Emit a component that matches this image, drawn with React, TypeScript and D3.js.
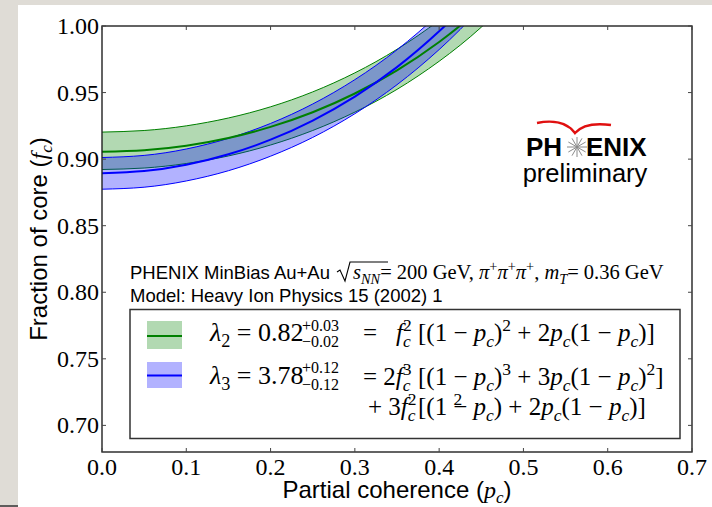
import React from 'react';
import * as d3 from 'd3';

// Partial coherence grid (p_c) and model fraction-of-core curves
const pc = [0, 0.05, 0.1, 0.15, 0.2, 0.25, 0.3, 0.35, 0.4, 0.45, 0.5];
const lambda2Mid = [0.9055, 0.9067, 0.9101, 0.9159, 0.9242, 0.9352, 0.9493, 0.9667, 0.988, 1.014, 1.0456];
const lambda2Hi = [0.9203, 0.9215, 0.925, 0.9309, 0.9393, 0.9505, 0.9648, 0.9825, 1.0042, 1.0306, 1.0627];
const lambda2Lo = [0.8922, 0.8933, 0.8967, 0.9024, 0.9106, 0.9215, 0.9353, 0.9524, 0.9735, 0.9991, 1.0302];
const lambda3Mid = [0.8894, 0.891, 0.8957, 0.9036, 0.9146, 0.929, 0.947, 0.9691, 0.996, 1.0283, 1.0674];
const lambda3Hi = [0.9012, 0.9028, 0.9076, 0.9156, 0.9268, 0.9414, 0.9597, 0.9821, 1.0093, 1.0422, 1.0818];
const lambda3Lo = [0.8774, 0.8789, 0.8836, 0.8913, 0.9022, 0.9163, 0.9341, 0.9559, 0.9823, 1.0142, 1.0527];

const xTicks = [0, 0.1, 0.2, 0.3, 0.4, 0.5, 0.6, 0.7];
const yTicks = [0.7, 0.75, 0.8, 0.85, 0.9, 0.95, 1.0];

const W = 712;
const H = 507;
const M = { left: 102, right: 692, top: 26, bottom: 452 };

const SERIF = '"Liberation Serif", "Times New Roman", serif';
const SANS = '"Liberation Sans", Arial, sans-serif';

type Seg = { t: string; i?: boolean; s?: 'b' | 'p'; dx?: number };

function MathText({ x, y, size, segs, anchor }: { x: number; y: number; size: number; segs: Seg[]; anchor?: string }) {
  let prev = 0;
  return (
    <text x={x} y={y} fontFamily={SERIF} fontSize={size} textAnchor={anchor} style={{ whiteSpace: 'pre' }} fill="#000">
      {segs.map((g, k) => {
        const off = g.s === 'b' ? size * 0.24 : g.s === 'p' ? -size * 0.4 : 0;
        const dy = off - prev;
        prev = off;
        return (
          <tspan key={k} dy={dy} dx={g.dx} fontStyle={g.i ? 'italic' : undefined} fontSize={g.s ? size * 0.7 : undefined}>
            {g.t}
          </tspan>
        );
      })}
    </text>
  );
}

export default function App() {
  const x = d3.scaleLinear().domain([0, 0.7]).range([M.left, M.right]);
  const y = d3.scaleLinear().domain([0.68, 1.0]).range([M.bottom, M.top]);

  const idx = pc.map((_, i) => i);
  const area = (lo: number[], hi: number[]) =>
    d3
      .area<number>()
      .x((i) => x(pc[i]))
      .y0((i) => y(lo[i]))
      .y1((i) => y(hi[i]))
      .curve(d3.curveNatural)(idx) || '';
  const line = (v: number[]) =>
    d3
      .line<number>()
      .x((i) => x(pc[i]))
      .y((i) => y(v[i]))
      .curve(d3.curveNatural)(idx) || '';

  const green = '#008000';
  const blue = '#0000ff';
  const fs = 25; // legend math size
  const sb = fs * 0.7 * 0.5;
  const bx = 418; // bracket column of the model formulas

  // PHENIX logo burst
  const burst = d3.range(12).map((k) => (k * Math.PI) / 6);

  return (
    <svg width={W} height={H} style={{ position: 'fixed', left: 0, top: 0, display: 'block' }}>
      <rect x={0} y={0} width={W} height={H} fill="#dfdcd6" />
      <rect x={18} y={5} width={W - 18} height={H - 5} fill="#fff" />
      <line x1={0} x2={18} y1={506} y2={506} stroke="#333" strokeWidth={1.5} />

      <defs>
        <clipPath id="plot">
          <rect x={M.left} y={M.top} width={M.right - M.left} height={M.bottom - M.top} />
        </clipPath>
      </defs>

      <g clipPath="url(#plot)">
        <path d={area(lambda2Lo, lambda2Hi)} fill={green} fillOpacity={0.3} />
        <path d={line(lambda2Hi)} fill="none" stroke={green} strokeWidth={1} />
        <path d={line(lambda2Lo)} fill="none" stroke={green} strokeWidth={1} />
        <path d={area(lambda3Lo, lambda3Hi)} fill={blue} fillOpacity={0.3} />
        <path d={line(lambda3Hi)} fill="none" stroke={blue} strokeWidth={1} />
        <path d={line(lambda3Lo)} fill="none" stroke={blue} strokeWidth={1} />
        <path d={line(lambda2Mid)} fill="none" stroke={green} strokeWidth={2} />
        <path d={line(lambda3Mid)} fill="none" stroke={blue} strokeWidth={2} />
      </g>

      {/* frame and ticks */}
      <rect x={M.left} y={M.top} width={M.right - M.left} height={M.bottom - M.top} fill="none" stroke="#222" strokeWidth={1.4} />
      {xTicks.map((t) => (
        <g key={'x' + t}>
          <line x1={x(t)} x2={x(t)} y1={M.bottom} y2={M.bottom - 4} stroke="#444" />
          <line x1={x(t)} x2={x(t)} y1={M.top} y2={M.top + 4} stroke="#444" />
          <text x={x(t)} y={475} textAnchor="middle" fontFamily={SERIF} fontSize={24} fill="#000">
            {d3.format('.1f')(t)}
          </text>
        </g>
      ))}
      {yTicks.map((t) => (
        <g key={'y' + t}>
          <line x1={M.left} x2={M.left + 4} y1={y(t)} y2={y(t)} stroke="#444" />
          <line x1={M.right} x2={M.right - 4} y1={y(t)} y2={y(t)} stroke="#444" />
          <text x={99} y={y(t) + 8} textAnchor="end" fontFamily={SERIF} fontSize={24} fill="#000">
            {d3.format('.2f')(t)}
          </text>
        </g>
      ))}

      {/* axis titles */}
      <text x={(M.left + M.right) / 2} y={498} textAnchor="middle" fontFamily={SANS} fontSize={24} style={{ whiteSpace: 'pre' }}>
        <tspan>Partial coherence (</tspan>
        <tspan fontFamily={SERIF} fontStyle="italic">p</tspan>
        <tspan fontFamily={SERIF} fontStyle="italic" fontSize={17} dy={5}>c</tspan>
        <tspan dy={-5}>)</tspan>
      </text>
      <text
        transform={`translate(47,${(M.top + M.bottom) / 2}) rotate(-90)`}
        textAnchor="middle"
        fontFamily={SANS}
        fontSize={24}
        style={{ whiteSpace: 'pre' }}
      >
        <tspan>Fraction of core (</tspan>
        <tspan fontFamily={SERIF} fontStyle="italic">f</tspan>
        <tspan fontFamily={SERIF} fontStyle="italic" fontSize={17} dy={5}>c</tspan>
        <tspan dy={-5}>)</tspan>
      </text>

      {/* PHENIX preliminary logo */}
      <path d="M537,123 C552,120 567,122 575,133 C582,125 596,123 611,125" fill="none" stroke="#e01010" strokeWidth={2.5} />
      <text x={526} y={156} fontFamily={SANS} fontWeight="bold" fontSize={26} fill="#000">PH</text>
      {burst.map((a, k) => (
        <line key={k} x1={577} y1={147} x2={577 + 10 * Math.cos(a)} y2={147 + 10 * Math.sin(a)} stroke="#8a8a8a" strokeWidth={1} />
      ))}
      <text x={586} y={156} fontFamily={SANS} fontWeight="bold" fontSize={26} fill="#000">ENIX</text>
      <text x={585} y={182} textAnchor="middle" fontFamily={SANS} fontSize={25.5} fill="#000">preliminary</text>

      {/* dataset annotation */}
      <text x={130} y={279} fontFamily={SANS} fontSize={18.5} fill="#000">PHENIX MinBias Au+Au</text>
      <path d="M337,272 L340,270 L345,281 L350,262 L388,262" fill="none" stroke="#000" strokeWidth={1.1} />
      <MathText
        x={353}
        y={279}
        size={20.5}
        segs={[
          { t: 's', i: true },
          { t: 'NN', i: true, s: 'b' },
          { t: '= 200 GeV, ' },
          { t: 'π', i: true },
          { t: '+', s: 'p' },
          { t: 'π', i: true },
          { t: '+', s: 'p' },
          { t: 'π', i: true },
          { t: '+', s: 'p' },
          { t: ', ' },
          { t: 'm', i: true },
          { t: 'T', i: true, s: 'b' },
          { t: '= 0.36 GeV' },
        ]}
      />
      <text x={130} y={302} fontFamily={SANS} fontSize={18.5} fill="#000">Model: Heavy Ion Physics 15 (2002) 1</text>

      {/* legend */}
      <rect x={130} y={309.5} width={550} height={129} fill="#fff" stroke="#333" strokeWidth={1.5} />
      <rect x={147} y={321} width={35} height={28} fill={green} fillOpacity={0.3} />
      <line x1={147} x2={182} y1={336} y2={336} stroke={green} strokeWidth={2} />
      <rect x={147} y={362} width={35} height={26} fill={blue} fillOpacity={0.3} />
      <line x1={147} x2={182} y1={375.5} y2={375.5} stroke={blue} strokeWidth={2} />

      <MathText x={210} y={341} size={fs + 1} segs={[{ t: 'λ', i: true }, { t: '2', s: 'b' }, { t: ' = 0.82' }]} />
      <text x={302} y={331} fontFamily={SERIF} fontSize={16}>+0.03</text>
      <text x={302} y={347} fontFamily={SERIF} fontSize={16}>−0.02</text>
      <MathText x={363} y={341} size={fs} segs={[{ t: '=' }]} />
      <MathText x={396} y={341} size={fs} segs={[{ t: 'f', i: true }, { t: '2', s: 'p' }, { t: 'c', i: true, s: 'b', dx: -sb }]} />
      <MathText
        x={bx}
        y={341}
        size={fs}
        segs={[
          { t: '[(1 − ' },
          { t: 'p', i: true },
          { t: 'c', i: true, s: 'b' },
          { t: ')' },
          { t: '2', s: 'p' },
          { t: ' + 2' },
          { t: 'p', i: true },
          { t: 'c', i: true, s: 'b' },
          { t: '(1 − ' },
          { t: 'p', i: true },
          { t: 'c', i: true, s: 'b' },
          { t: ')]' },
        ]}
      />

      <MathText x={210} y={384} size={fs + 1} segs={[{ t: 'λ', i: true }, { t: '3', s: 'b' }, { t: ' = 3.78' }]} />
      <text x={302} y={373} fontFamily={SERIF} fontSize={16}>+0.12</text>
      <text x={302} y={390} fontFamily={SERIF} fontSize={16}>−0.12</text>
      <MathText x={363} y={385} size={fs} segs={[{ t: '= 2' }, { t: 'f', i: true }, { t: '3', s: 'p' }, { t: 'c', i: true, s: 'b', dx: -sb }]} />
      <MathText
        x={bx}
        y={385}
        size={fs}
        segs={[
          { t: '[(1 − ' },
          { t: 'p', i: true },
          { t: 'c', i: true, s: 'b' },
          { t: ')' },
          { t: '3', s: 'p' },
          { t: ' + 3' },
          { t: 'p', i: true },
          { t: 'c', i: true, s: 'b' },
          { t: '(1 − ' },
          { t: 'p', i: true },
          { t: 'c', i: true, s: 'b' },
          { t: ')' },
          { t: '2', s: 'p' },
          { t: ']' },
        ]}
      />
      <MathText x={368} y={415} size={fs} segs={[{ t: '+ 3' }, { t: 'f', i: true }, { t: '2', s: 'p' }, { t: 'c', i: true, s: 'b', dx: -sb }]} />
      <MathText
        x={bx}
        y={415}
        size={fs}
        segs={[
          { t: '[(1 ' },
          { t: '2', s: 'p' },
          { t: '− ', dx: -9 },
          { t: 'p', i: true },
          { t: 'c', i: true, s: 'b' },
          { t: ') + 2' },
          { t: 'p', i: true },
          { t: 'c', i: true, s: 'b' },
          { t: '(1 − ' },
          { t: 'p', i: true },
          { t: 'c', i: true, s: 'b' },
          { t: ')]' },
        ]}
      />
    </svg>
  );
}
